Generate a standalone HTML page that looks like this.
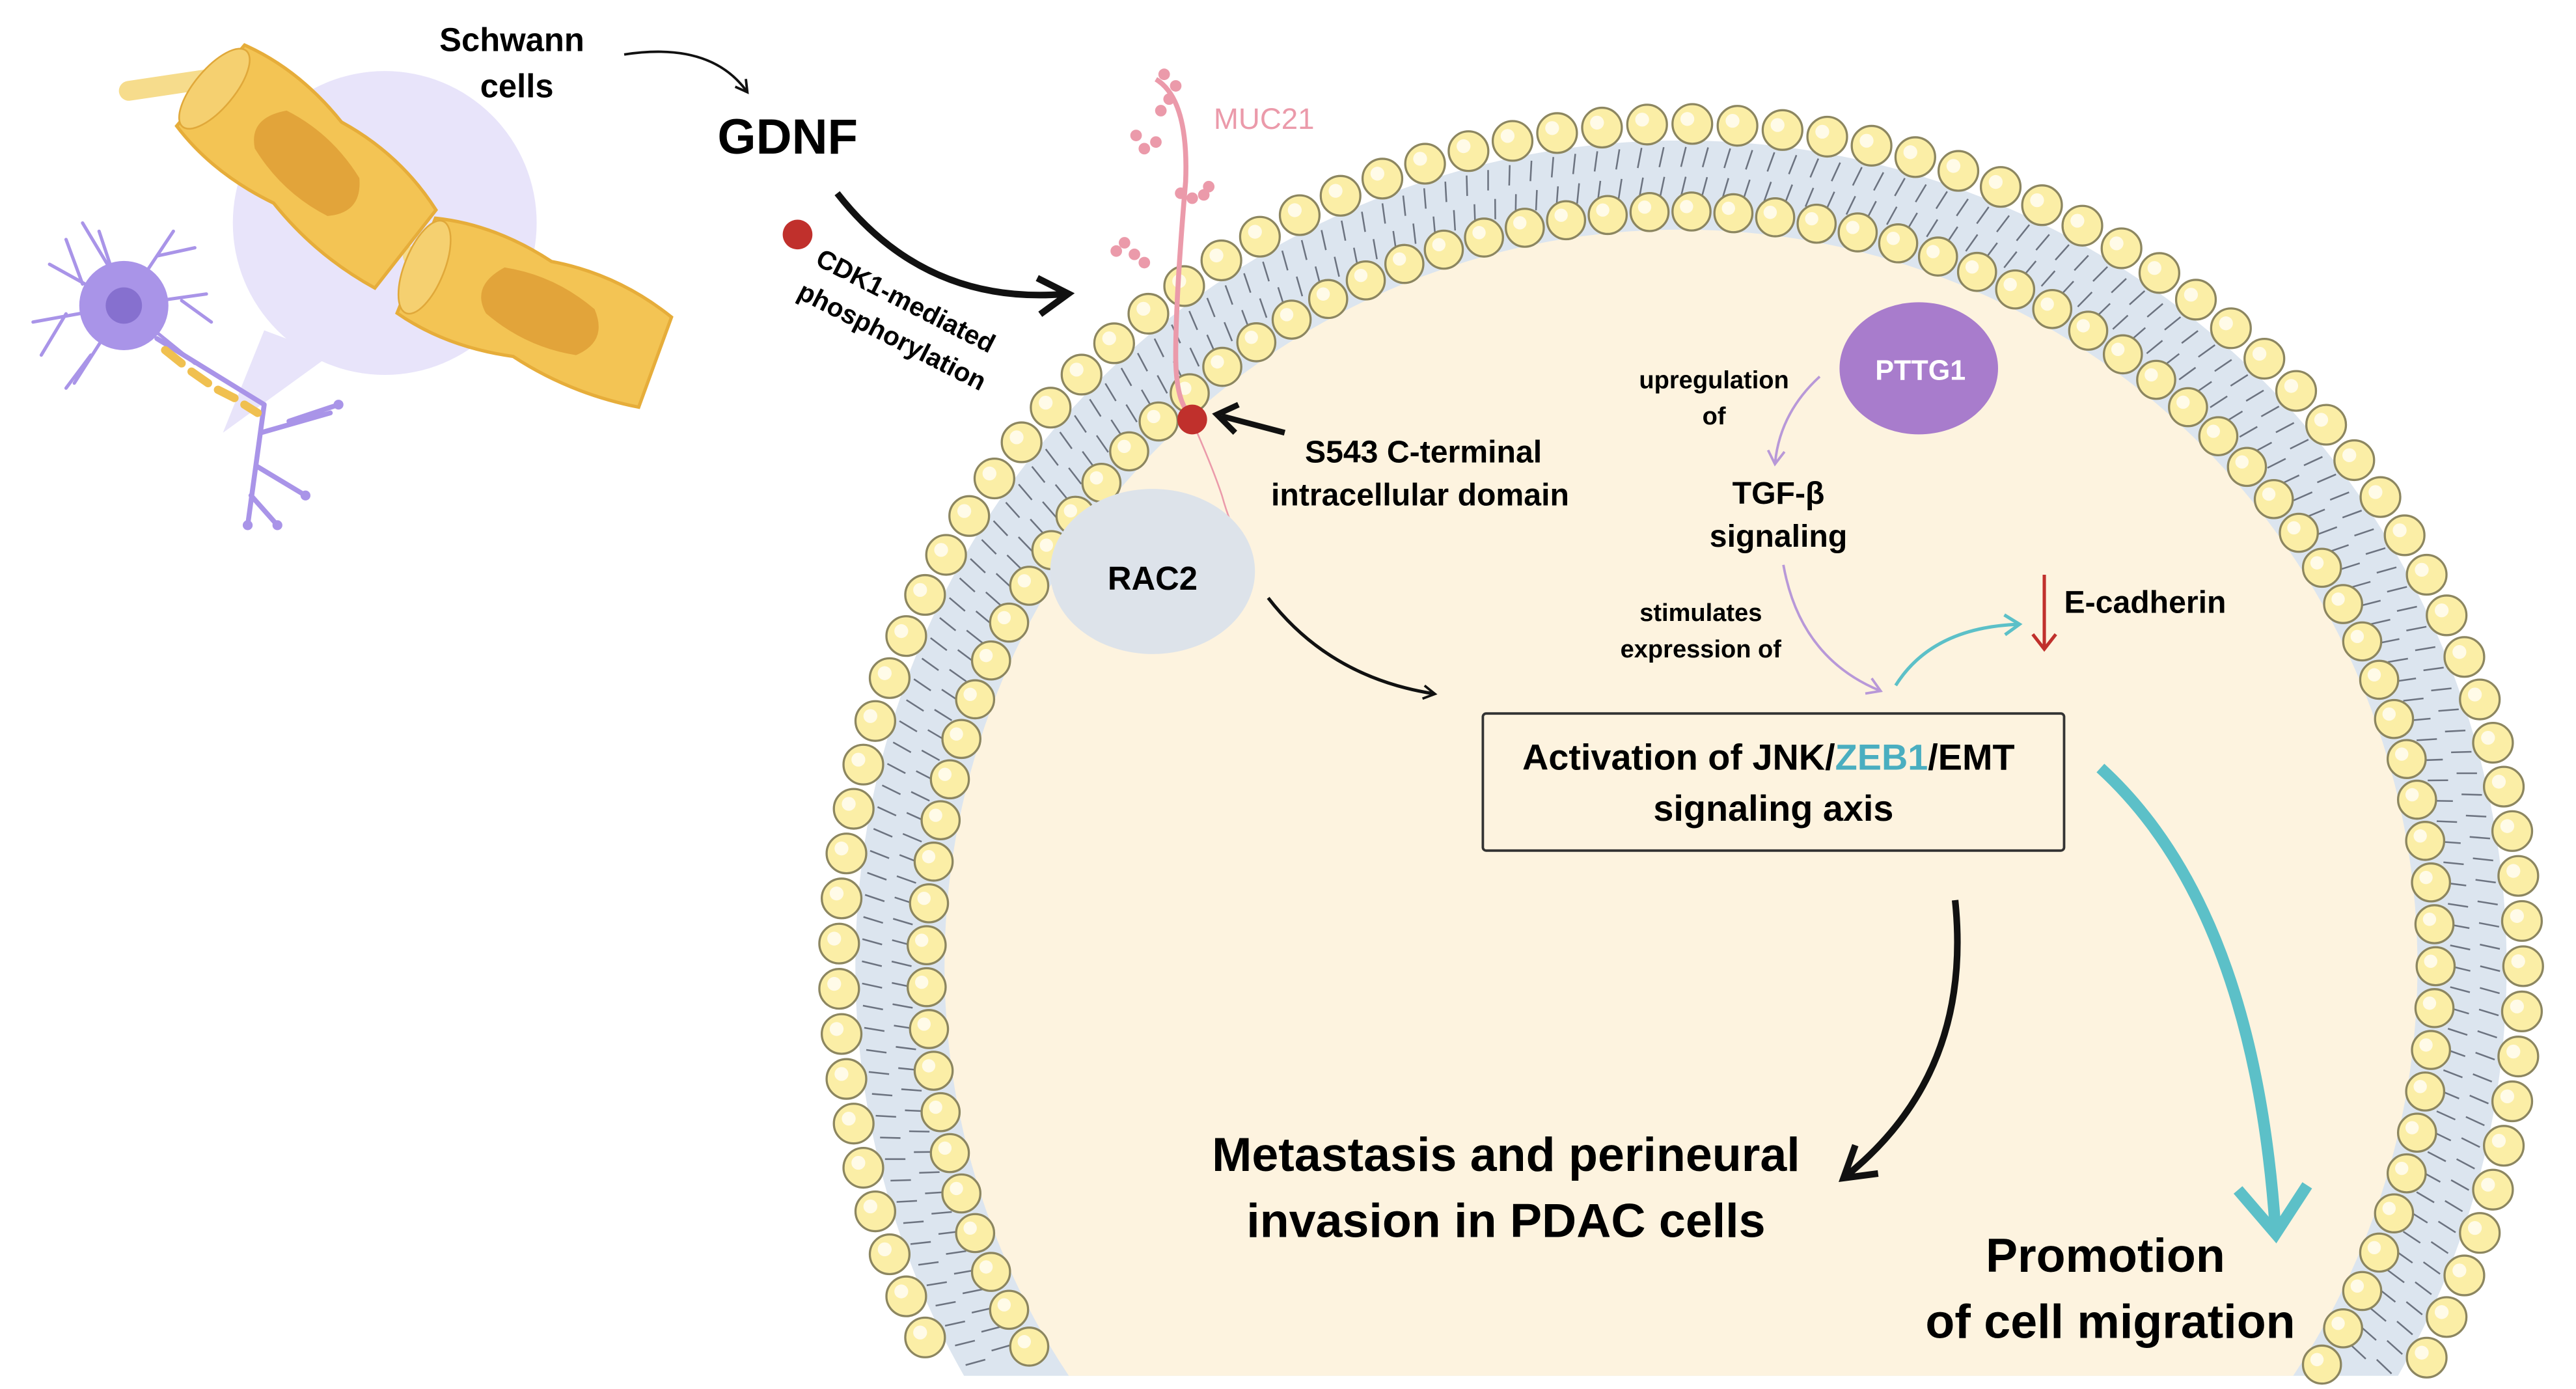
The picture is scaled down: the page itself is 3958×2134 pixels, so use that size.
<!DOCTYPE html>
<html><head><meta charset="utf-8"><style>
html,body{margin:0;padding:0;background:#fff;width:3958px;height:2134px;overflow:hidden;}
svg{display:block;overflow:hidden;}
text{font-family:"Liberation Sans",sans-serif;font-weight:bold;}
</style></head><body>
<svg id="s" width="3958" height="2134" viewBox="0 0 1560 841" preserveAspectRatio="none" xmlns="http://www.w3.org/2000/svg">
<defs>
<marker id="ab" markerWidth="10" markerHeight="10" refX="7" refY="5" orient="auto" markerUnits="userSpaceOnUse"><path d="M1,1 L8,5 L1,9" fill="none" stroke="#111" stroke-width="1.5"/></marker>
<marker id="abig" markerWidth="30" markerHeight="30" refX="20" refY="15" orient="auto" markerUnits="userSpaceOnUse"><path d="M4,4 L22,15 L4,26" fill="none" stroke="#111" stroke-width="4"/></marker>
<marker id="ap" markerWidth="12" markerHeight="12" refX="8" refY="6" orient="auto" markerUnits="userSpaceOnUse"><path d="M1,1 L9,6 L1,11" fill="none" stroke="#b898d8" stroke-width="1.5"/></marker>
<marker id="ac" markerWidth="14" markerHeight="14" refX="9" refY="7" orient="auto" markerUnits="userSpaceOnUse"><path d="M1,1 L10,7 L1,13" fill="none" stroke="#5cc0c8" stroke-width="2"/></marker>
<marker id="acb" markerWidth="50" markerHeight="50" refX="30" refY="25" orient="auto" markerUnits="userSpaceOnUse"><path d="M4,4 L32,25 L4,46" fill="none" stroke="#5cc0c8" stroke-width="7"/></marker>
</defs>
<path d="M583.8,833 A500,500 0 1,1 1452.2,833 Z" fill="#dce5ef"/>
<path d="M647.3,833 A446,446 0 1,1 1388.7,833 Z" fill="#fdf3df"/>
<g id="tails" stroke="#6c7380" stroke-width="1"></g>
<g id="beads"></g>
<circle cx="233" cy="135" r="92" fill="#e8e4fa"/>
<path d="M160,200 L135,262 L200,215 Z" fill="#e8e4fa"/>
<path d="M78,55 L125,48" stroke="#f6dc8c" stroke-width="12" stroke-linecap="round"/>
<path d="M250,155 L265,170" stroke="#f6dc8c" stroke-width="12" stroke-linecap="round"/>
<g transform="translate(185,100) rotate(40)">
<path d="M-75,-32 Q-40,-42 0,-34 Q40,-42 78,-30 L80,30 Q40,38 0,30 Q-40,40 -75,32 Z" fill="#f3c454" stroke="#e6ad3a" stroke-width="2"/>
<path d="M-30,-18 Q0,-25 30,-15 Q45,0 30,15 Q0,22 -30,12 Q-45,0 -30,-18Z" fill="#e2a43a"/>
<ellipse cx="-72" cy="0" rx="12" ry="30" fill="#f5d070" stroke="#e0a83a"/>
</g>
<g transform="translate(322,188) rotate(22)">
<path d="M-75,-30 Q-40,-40 0,-32 Q40,-40 80,-28 L82,30 Q40,38 0,30 Q-40,40 -75,32 Z" fill="#f3c454" stroke="#e6ad3a" stroke-width="2"/>
<path d="M-25,-18 Q5,-25 35,-15 Q50,0 35,15 Q5,22 -25,12 Q-40,0 -25,-18Z" fill="#e2a43a"/>
<ellipse cx="-70" cy="0" rx="12" ry="30" fill="#f5d070" stroke="#e0a83a"/>
</g>
<g stroke="#a994e8" stroke-width="2" fill="none" stroke-linecap="round">
<path d="M75,185 L30,160 M50,172 L40,145 M75,185 L60,140 M65,160 L50,135 M75,185 L105,140 M95,155 L118,150 M75,185 L125,178 M110,182 L128,195 M75,185 L20,195 M40,190 L25,215 M75,185 L45,232 M55,215 L40,235 M75,185 L118,220"/>
<path d="M95,205 L160,245 M160,245 L150,318 M155,282 L185,300 M158,262 L200,250 M175,255 L205,245 M152,300 L168,318" stroke-width="3"/>
</g>
<g fill="#a994e8"><circle cx="150" cy="318" r="3"/><circle cx="185" cy="300" r="3"/><circle cx="205" cy="245" r="3"/><circle cx="168" cy="318" r="3"/></g>
<circle cx="75" cy="185" r="27" fill="#a994e8"/>
<circle cx="75" cy="185" r="11" fill="#8670cf"/>
<g stroke="#f0c050" stroke-width="5" stroke-linecap="round"><path d="M100,212 L110,220 M116,225 L126,232 M132,236 L142,241 M148,245 L156,250"/></g>
<text x="310" y="31" font-size="20" text-anchor="middle">Schwann</text>
<text x="313" y="59" font-size="20" text-anchor="middle">cells</text>
<path d="M378,33 Q430,25 452,55" fill="none" stroke="#111" stroke-width="1.5" marker-end="url(#ab)"/>
<text x="477" y="93" font-size="30" text-anchor="middle">GDNF</text>
<circle cx="483" cy="142" r="9" fill="#c0302c"/>
<text transform="translate(493,160) rotate(27)" font-size="16">CDK1-mediated</text>
<text transform="translate(482,180) rotate(27)" font-size="16">phosphorylation</text>
<path d="M507,117 Q560,185 645,178" fill="none" stroke="#111" stroke-width="4" marker-end="url(#abig)"/>
<path d="M700,48 Q720,60 718,110 Q712,180 712,215 Q712,245 722,252" fill="none" stroke="#eb9aaa" stroke-width="3"/>
<g fill="#eb9aaa"><circle cx="705" cy="45" r="3.5"/><circle cx="712" cy="52" r="3.5"/><circle cx="708" cy="60" r="3.5"/><circle cx="703" cy="67" r="3.5"/>
<circle cx="688" cy="82" r="3.5"/><circle cx="693" cy="90" r="3.5"/><circle cx="700" cy="86" r="3.5"/>
<circle cx="715" cy="117" r="3.5"/><circle cx="722" cy="120" r="3.5"/><circle cx="729" cy="118" r="3.5"/><circle cx="732" cy="113" r="3.5"/>
<circle cx="676" cy="152" r="3.5"/><circle cx="681" cy="147" r="3.5"/><circle cx="687" cy="154" r="3.5"/><circle cx="693" cy="159" r="3.5"/></g>
<text x="735" y="78" font-size="18" fill="#eb9aaa" style="font-weight:normal">MUC21</text>
<path d="M725,262 Q735,285 740,300 Q745,318 752,330" fill="none" stroke="#eb9aaa" stroke-width="1"/>
<circle cx="722" cy="254" r="9" fill="#c0302c"/>
<path d="M778,262 L740,252" stroke="#111" stroke-width="3.5"/>
<path d="M750,245 L737,251 L748,262" fill="none" stroke="#111" stroke-width="3.5"/>
<text x="862" y="280" font-size="19" text-anchor="middle">S543 C-terminal</text>
<text x="860" y="306" font-size="19" text-anchor="middle">intracellular domain</text>
<ellipse cx="698" cy="346" rx="62" ry="50" fill="#dde3ea"/>
<text x="698" y="357" font-size="20" text-anchor="middle">RAC2</text>
<path d="M768,362 Q805,410 868,420" fill="none" stroke="#111" stroke-width="2" marker-end="url(#ab)"/>
<ellipse cx="1162" cy="223" rx="48" ry="40" fill="#a87ccc"/>
<text x="1163" y="230" font-size="17" fill="#fff" text-anchor="middle">PTTG1</text>
<text x="1038" y="235" font-size="15" text-anchor="middle">upregulation</text>
<text x="1038" y="257" font-size="15" text-anchor="middle">of</text>
<path d="M1102,228 Q1078,250 1075,280" fill="none" stroke="#b898d8" stroke-width="1.5" marker-end="url(#ap)"/>
<text x="1077" y="305" font-size="19" text-anchor="middle">TGF-β</text>
<text x="1077" y="331" font-size="19" text-anchor="middle">signaling</text>
<text x="1030" y="376" font-size="15" text-anchor="middle">stimulates</text>
<text x="1030" y="398" font-size="15" text-anchor="middle">expression of</text>
<path d="M1080,342 Q1090,398 1138,418" fill="none" stroke="#b898d8" stroke-width="1.5" marker-end="url(#ap)"/>
<path d="M1148,415 Q1170,380 1222,378" fill="none" stroke="#5cc0c8" stroke-width="2" marker-end="url(#ac)"/>
<path d="M1238,348 L1238,392" stroke="#c0302c" stroke-width="2"/>
<path d="M1231,384 L1238,393 L1245,384" fill="none" stroke="#c0302c" stroke-width="2"/>
<text x="1250" y="371" font-size="19">E-cadherin</text>
<rect x="898" y="432" width="352" height="83" fill="#fdf3df" stroke="#333" stroke-width="1.5" rx="2"/>
<text x="1071" y="466" font-size="22" text-anchor="middle">Activation of JNK/<tspan fill="#4aaec0">ZEB1</tspan>/EMT</text>
<text x="1074" y="497" font-size="22" text-anchor="middle">signaling axis</text>
<path d="M1184,545 Q1195,650 1118,712" fill="none" stroke="#111" stroke-width="4" marker-end="url(#abig)"/>
<text x="912" y="709" font-size="29" text-anchor="middle">Metastasis and perineural</text>
<text x="912" y="749" font-size="29" text-anchor="middle">invasion in PDAC cells</text>
<path d="M1272,465 Q1365,550 1378,745" fill="none" stroke="#5cc0c8" stroke-width="7" marker-end="url(#acb)"/>
<text x="1275" y="770" font-size="29" text-anchor="middle">Promotion</text>
<text x="1278" y="810" font-size="29" text-anchor="middle">of cell migration</text>
</svg>
<script>
(function(){
var ns="http://www.w3.org/2000/svg",cx=1018,cy=585;
var beads=document.getElementById('beads'),tails=document.getElementById('tails');
function ring(r,br,step){
  var n=Math.round(2*Math.PI*r/step);
  for(var i=0;i<n;i++){
    var a=i*2*Math.PI/n,x=cx+r*Math.cos(a),y=cy+r*Math.sin(a);
    if(y+br>840)continue;
    var c=document.createElementNS(ns,'circle');
    c.setAttribute('cx',x);c.setAttribute('cy',y);c.setAttribute('r',br);
    c.setAttribute('fill','#fbeea6');c.setAttribute('stroke','#8c8660');c.setAttribute('stroke-width','1.3');
    beads.appendChild(c);
    var h=document.createElementNS(ns,'circle');
    h.setAttribute('cx',x-3);h.setAttribute('cy',y-3);h.setAttribute('r',br*0.35);h.setAttribute('fill','#fffbe8');
    beads.appendChild(h);
  }
}
var n=Math.round(2*Math.PI*480/13);
for(var i=0;i<n;i++){
  var a=i*2*Math.PI/n;
  if(cy+496*Math.sin(a)>835||cy+466*Math.sin(a)>835)continue;
  [[466,478],[484,496]].forEach(function(p){
    var l=document.createElementNS(ns,'line');
    l.setAttribute('x1',cx+p[0]*Math.cos(a));l.setAttribute('y1',cy+p[0]*Math.sin(a));
    l.setAttribute('x2',cx+p[1]*Math.cos(a+0.006));l.setAttribute('y2',cy+p[1]*Math.sin(a+0.006));
    tails.appendChild(l);
  });
}
ring(510,12,27.5);
ring(457,11.5,25.5);
})();
</script>
</body></html>
